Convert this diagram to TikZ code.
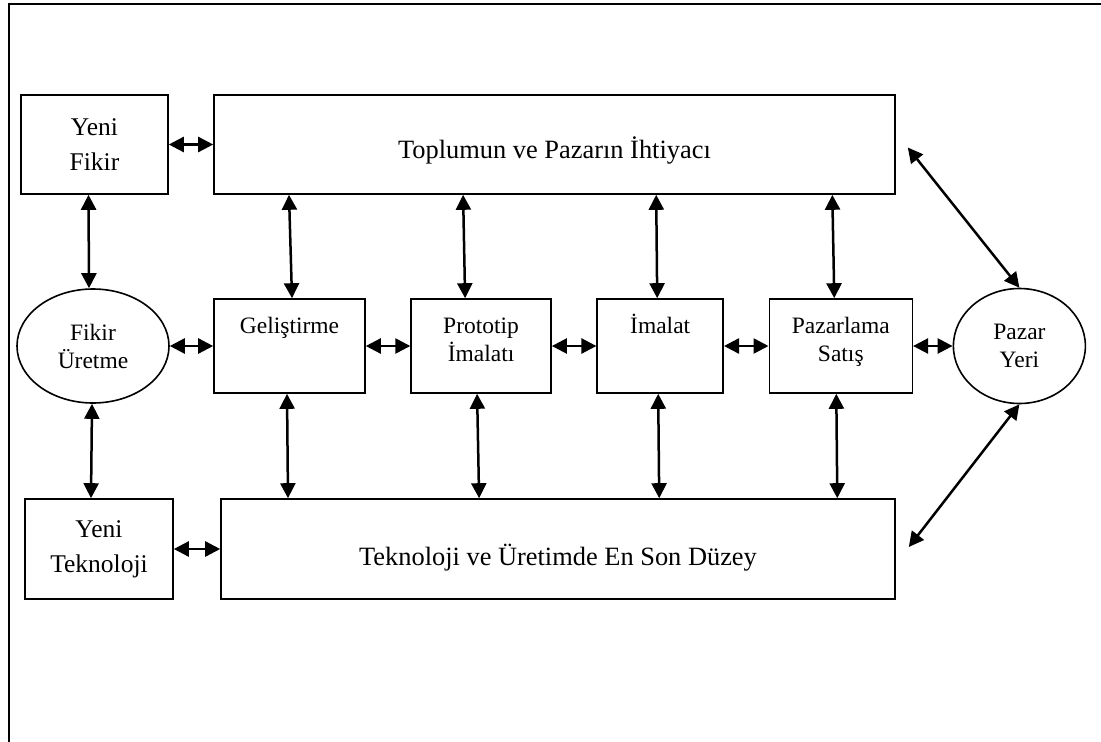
\documentclass[tikz,border=0pt]{standalone}
\usepackage{fontspec}
\setmainfont{Liberation Serif}
\usepackage{tikz}
\usetikzlibrary{positioning,shapes.geometric,arrows.meta}

\newcommand{\bigtext}{\fontsize{26.4}{32}\selectfont}
\newcommand{\sidetext}{\fontsize{25.5}{35}\selectfont}
\newcommand{\midtext}{\fontsize{23.5}{28}\selectfont}

\begin{document}
\begin{tikzpicture}[x=1pt, y=-1pt, node distance={44.5pt},
    box/.style = {draw, rectangle, line width=1.6pt, inner sep=0pt, align=center},
    mid/.style = {box, font=\midtext, minimum height=94pt, text height=17pt, text depth=43pt},
    midtwo/.style = {box, font=\midtext, minimum height=94pt, text height=45pt, text depth=15pt},
    oval/.style = {draw, ellipse, line width=1.6pt, inner sep=0pt, align=center, font=\midtext},
    link/.style = {{Triangle[length=15pt,width=15pt]}-{Triangle[length=15pt,width=15pt]}, line width=2.5pt}]

    \useasboundingbox (0,0) rectangle (1101,742);
    \draw[line width=1.6pt] (9,742) -- (9,4) -- (1101,4);

    \node[box, font=\sidetext, minimum width=147pt, minimum height=99pt] (yf) at (94.5,144.5) {Yeni\\Fikir};
    \node[box, font=\bigtext, minimum width=681pt, minimum height=99pt, text height=33pt, text depth=6pt] (tp) at (554.5,144.5) {Toplumun ve Pazarın İhtiyacı};
    \node[oval, minimum width=152pt, minimum height=114pt] (fu) at (93,346) {Fikir\\Üretme};
    \node[mid, minimum width=151pt] (ge) at (289.5,346) {Geliştirme};
    \node[midtwo, minimum width=140pt] (pi) [right=of ge] {Prototip\\İmalatı};
    \node[mid, minimum width=126pt] (im) [right=of pi] {İmalat};
    \node[midtwo, minimum width=143pt] (ps) [right=of im] {Pazarlama\\Satış};
    \node[oval, minimum width=132pt, minimum height=115pt] (py) [right=39.5pt of ps] {Pazar\\Yeri};
    \node[box, font=\sidetext, minimum width=148pt, minimum height=100pt] (yt) at (99,549) {Yeni\\Teknoloji};
    \node[box, font=\bigtext, minimum width=674pt, minimum height=100pt, text height=38pt, text depth=6pt] (tk) at (558,549) {Teknoloji ve Üretimde En Son Düzey};

    \draw[link] (yf) -- (tp);
    \draw[link] (fu) -- (ge);
    \draw[link] (ge) -- (pi);
    \draw[link] (pi) -- (im);
    \draw[link] (im) -- (ps);
    \draw[link] (ps) -- (py);
    \draw[link] (yt) -- (tk);

    \draw[link] ([xshift=-6pt]yf.south) -- ([xshift=-4pt]fu.north);
    \draw[link] ([xshift=-1pt]fu.south) -- ([xshift=-2pt]fu.south |- yt.north);

    \draw[link] ([xshift=-0.5pt]ge.north |- tp.south) -- ([xshift=2.5pt]ge.north);
    \draw[link] ([xshift=-18pt]pi.north |- tp.south) -- ([xshift=-16pt]pi.north);
    \draw[link] ([xshift=-4pt]im.north |- tp.south) -- ([xshift=-3pt]im.north);
    \draw[link] ([xshift=-8.5pt]ps.north |- tp.south) -- ([xshift=-6.5pt]ps.north);

    \draw[link] ([xshift=-2.5pt]ge.south) -- ([xshift=-1.5pt]ge.south |- tk.north);
    \draw[link] ([xshift=-4pt]pi.south) -- ([xshift=-2pt]pi.south |- tk.north);
    \draw[link] ([xshift=-2pt]im.south) -- ([xshift=-1pt]im.south |- tk.north);
    \draw[link] ([xshift=-4.5pt]ps.south) -- ([xshift=-3.5pt]ps.south |- tk.north);

    \draw[link] ([shift={(12,3)}]tp.east) -- (py.north);
    \draw[link] (py.south) -- ([shift={(13,-2)}]tk.east);

\end{tikzpicture}
\end{document}
